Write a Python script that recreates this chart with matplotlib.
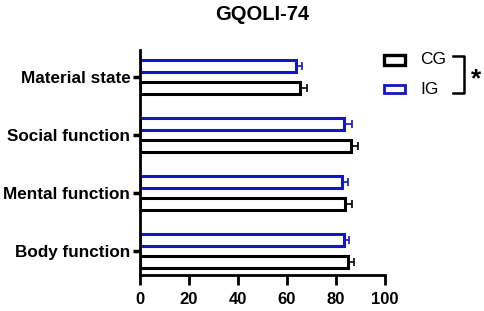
import matplotlib.pyplot as plt
import numpy as np
from matplotlib.patches import Rectangle
from matplotlib.lines import Line2D

plt.rcParams['font.family'] = ['Liberation Sans', 'DejaVu Sans']

categories = ['Body function', 'Mental function', 'Social function', 'Material state']
cg_mean = [84.9, 83.7, 86.1, 65.3]
cg_err = [2.4, 3.0, 2.8, 2.7]
ig_mean = [83.3, 82.4, 83.3, 63.7]
ig_err = [2.0, 2.6, 3.2, 2.4]

y = np.arange(len(categories))
h = 0.2
off = 0.19

fig = plt.figure(figsize=(4.84, 3.11), dpi=100)
ax = fig.add_axes([140 / 484, 36 / 311, 245 / 484, 225 / 311])

lw = 2.2
blue = '#1515c8'
ax.barh(y - off, cg_mean, height=h, color='white', edgecolor='black', linewidth=lw,
        xerr=[np.zeros(len(cg_err)), cg_err], error_kw=dict(ecolor='black', elinewidth=1.2, capsize=3, capthick=1.2))
ax.barh(y + off, ig_mean, height=h, color='white', edgecolor=blue, linewidth=lw,
        xerr=[np.zeros(len(ig_err)), ig_err], error_kw=dict(ecolor=blue, elinewidth=1.2, capsize=3, capthick=1.2))

ax.set_xlim(0, 100)
ax.set_ylim(-0.414, 3.466)
ax.set_xticks([0, 20, 40, 60, 80, 100])
ax.set_yticks(y)
ax.set_yticklabels(categories, fontweight='bold', fontsize=12.3)
for lab in ax.get_xticklabels():
    lab.set_fontweight('bold')
    lab.set_fontsize(12)
ax.tick_params(axis='x', length=7, width=2, pad=5)
ax.tick_params(axis='y', length=5, width=2.5, pad=2)
for s in ['top', 'right']:
    ax.spines[s].set_visible(False)
for s in ['left', 'bottom']:
    ax.spines[s].set_linewidth(2)

fig.text(262 / 484, 1 - 15 / 311, 'GQOLI-74', ha='center', va='center', fontsize=14.5, fontweight='bold')

# legend
fig.patches.append(Rectangle((384 / 484, 1 - 65 / 311), 21 / 484, 10 / 311, transform=fig.transFigure,
                             facecolor='white', edgecolor='black', linewidth=2.4))
fig.patches.append(Rectangle((384 / 484, 1 - 93 / 311), 21 / 484, 8 / 311, transform=fig.transFigure,
                             facecolor='white', edgecolor=blue, linewidth=2))
fig.text(420 / 484, 1 - 59 / 311, 'CG', ha='left', va='center', fontsize=12.5)
fig.text(420 / 484, 1 - 90 / 311, 'IG', ha='left', va='center', fontsize=12.5)
bx = [453 / 484, 464 / 484, 464 / 484, 453 / 484]
by = [1 - 56 / 311, 1 - 56 / 311, 1 - 93 / 311, 1 - 93 / 311]
fig.lines.append(Line2D(bx, by, transform=fig.transFigure, color='black', linewidth=1.8))
fig.text(476 / 484, 1 - 79 / 311, '*', ha='center', va='center', fontsize=19, fontweight='bold')

fig.savefig('out.png', dpi=100)
